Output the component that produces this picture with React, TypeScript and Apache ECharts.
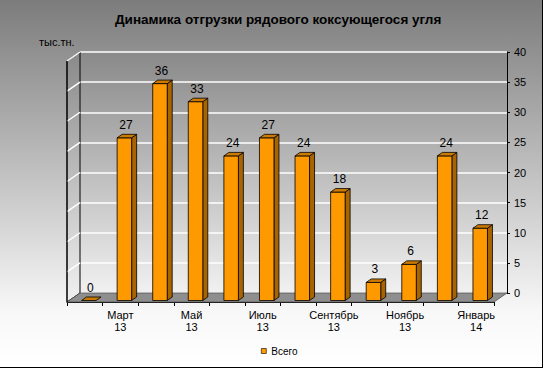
import React, { useEffect, useRef } from "react";
import * as echarts from "echarts";

const categories = [
  "Февраль\n13", "Март\n13", "Апрель\n13", "Май\n13", "Июнь\n13", "Июль\n13",
  "Август\n13", "Сентябрь\n13", "Октябрь\n13", "Ноябрь\n13", "Декабрь\n13", "Январь\n14",
];
const values = [0, 27, 36, 33, 24, 27, 24, 18, 3, 6, 24, 12];
const seriesName = "Всего";
const yMin = 0;
const yMax = 40;
const yStep = 5;
const yTicks = [0, 5, 10, 15, 20, 25, 30, 35, 40];

const FONT = "Liberation Sans";
const DX = 13; // wall depth (x)
const DY = 9; // wall depth (y)

export default function App() {
  const ref = useRef<HTMLDivElement>(null);
  useEffect(() => {
    if (!ref.current) return;
    const chart = echarts.init(ref.current, null, { renderer: "svg" });
    const wallGrad = new echarts.graphic.LinearGradient(0, 0, 0, 1, [
      { offset: 0, color: "#898989" },
      { offset: 1, color: "#f1f1f1" },
    ]);
    const option: any = {
      animation: false,
      backgroundColor: new echarts.graphic.LinearGradient(0, 0, 0, 1, [
        { offset: 0, color: "#7c7c7c" },
        { offset: 0.85, color: "#f8f8f8" },
        { offset: 1, color: "#ffffff" },
      ]),
      textStyle: { fontFamily: FONT },
      title: {
        text: "Динамика отгрузки рядового коксующегося угля",
        left: 110,
        top: 7,
        textStyle: { fontSize: 13.5, fontWeight: "bold", color: "#000", fontFamily: FONT },
      },
      legend: {
        data: [seriesName],
        left: 256,
        top: 341,
        icon: "rect",
        itemWidth: 5,
        itemHeight: 5,
        itemStyle: { borderColor: "#000", borderWidth: 0.6 },
        textStyle: { fontSize: 10, color: "#000", fontFamily: FONT },
      },
      grid: [
        { left: 80, top: 52, width: 427, height: 241, show: true, backgroundColor: wallGrad, borderWidth: 0 },
        { left: 67, top: 61, width: 427, height: 241, show: false },
      ],
      xAxis: [
        { type: "category", gridIndex: 0, data: categories, show: false },
        {
          type: "category",
          gridIndex: 1,
          data: categories,
          axisLine: { lineStyle: { color: "#000", width: 1 } },
          axisTick: { show: true, interval: 0, length: 4, lineStyle: { color: "#000" } },
          axisLabel: {
            interval: (i: number) => i % 2 === 1,
            fontSize: 11,
            color: "#000",
            margin: 7,
            lineHeight: 12,
            fontFamily: FONT,
          },
        },
      ],
      yAxis: [
        {
          type: "value",
          gridIndex: 0,
          min: yMin,
          max: yMax,
          interval: yStep,
          position: "right",
          axisLine: { show: true, lineStyle: { color: "#000", width: 1 } },
          axisTick: { show: true, length: 3, lineStyle: { color: "#000" } },
          axisLabel: { fontSize: 11, color: "#000", margin: 7, fontFamily: FONT },
          splitLine: { show: true, lineStyle: { color: "#ffffff", width: 1.5 } },
        },
        { type: "value", gridIndex: 1, min: yMin, max: yMax, show: false, splitLine: { show: false } },
      ],
      graphic: [
        {
          type: "text",
          left: 39,
          top: 36,
          style: { text: "тыс.тн.", fontSize: 11, fill: "#000", fontFamily: FONT },
        },
        { type: "line", shape: { x1: 542.5, y1: 0, x2: 542.5, y2: 368 }, style: { stroke: "#000", lineWidth: 1 } },
        { type: "line", shape: { x1: 0, y1: 367.5, x2: 543, y2: 367.5 }, style: { stroke: "#000", lineWidth: 1 } },
      ],
      series: [
        {
          type: "custom",
          xAxisIndex: 0,
          yAxisIndex: 0,
          silent: true,
          clip: false,
          z: 1,
          data: [[0, 0]],
          renderItem: (params: any, api: any) => {
            const cs = params.coordSys;
            const x = cs.x;
            const y = cs.y;
            const w = cs.width;
            const h = cs.height;
            const children: any[] = [
              {
                type: "polygon",
                shape: { points: [[x - DX, y + DY], [x, y], [x, y + h], [x - DX, y + h + DY]] },
                style: { fill: wallGrad, stroke: "#000", lineWidth: 1 },
              },
              {
                type: "polygon",
                shape: { points: [[x - DX, y + h + DY], [x + w - DX, y + h + DY], [x + w, y + h], [x, y + h]] },
                style: { fill: "#8e8e8e", stroke: "#555", lineWidth: 0.8 },
              },
            ];
            yTicks.forEach((v) => {
              if (v === yMin) return;
              const p = api.coord([0, v]);
              children.push({
                type: "line",
                shape: { x1: x, y1: p[1], x2: x - DX, y2: p[1] + DY },
                style: { stroke: "#ffffff", lineWidth: 1.5 },
              });
            });
            children.push({
              type: "line",
              shape: { x1: x - DX, y1: y + DY, x2: x - DX, y2: y + h + DY },
              style: { stroke: "#000", lineWidth: 1 },
            });
            return { type: "group", children };
          },
        },
        {
          type: "custom",
          name: seriesName,
          xAxisIndex: 0,
          yAxisIndex: 0,
          clip: false,
          z: 3,
          itemStyle: { color: "#FF9900" },
          data: values.map((v, i) => [i, v]),
          encode: { x: 0, y: 1 },
          renderItem: (params: any, api: any) => {
            const idx = api.value(0);
            const val = api.value(1);
            const base = api.coord([idx, 0]);
            const top = api.coord([idx, val]);
            const fw = 14.5;
            const ox = -9;
            const oy = 7.5;
            const bdx = 5;
            const bdy = 3.5;
            const x0 = base[0] + ox - fw / 2;
            const x1 = x0 + fw;
            const yT = top[1] + oy;
            const yB = base[1] + oy;
            const children: any[] = [];
            if (val > 0) {
              children.push({
                type: "polygon",
                shape: { points: [[x1, yT], [x1 + bdx, yT - bdy], [x1 + bdx, yB - bdy], [x1, yB]] },
                style: { fill: "#a86400", stroke: "#000", lineWidth: 0.8 },
              });
              children.push({
                type: "rect",
                shape: { x: x0, y: yT, width: fw, height: yB - yT },
                style: { fill: "#FF9900", stroke: "#000", lineWidth: 0.8 },
              });
            }
            children.push({
              type: "polygon",
              shape: { points: [[x0, yT], [x0 + bdx, yT - bdy], [x1 + bdx, yT - bdy], [x1, yT]] },
              style: { fill: "#cc7a00", stroke: "#000", lineWidth: 0.8 },
            });
            children.push({
              type: "text",
              x: (x0 + x1) / 2 + 1.5,
              y: yT - bdy - 3.5,
              style: {
                text: String(val),
                textAlign: "center",
                textVerticalAlign: "bottom",
                fontSize: 12,
                fill: "#000",
                fontFamily: FONT,
              },
            });
            return { type: "group", children };
          },
        },
      ],
    };
    chart.setOption(option);
    return () => chart.dispose();
  }, []);
  return (
    <div
      ref={ref}
      style={{ position: "absolute", left: 0, top: 0, width: 543, height: 368 }}
    />
  );
}
